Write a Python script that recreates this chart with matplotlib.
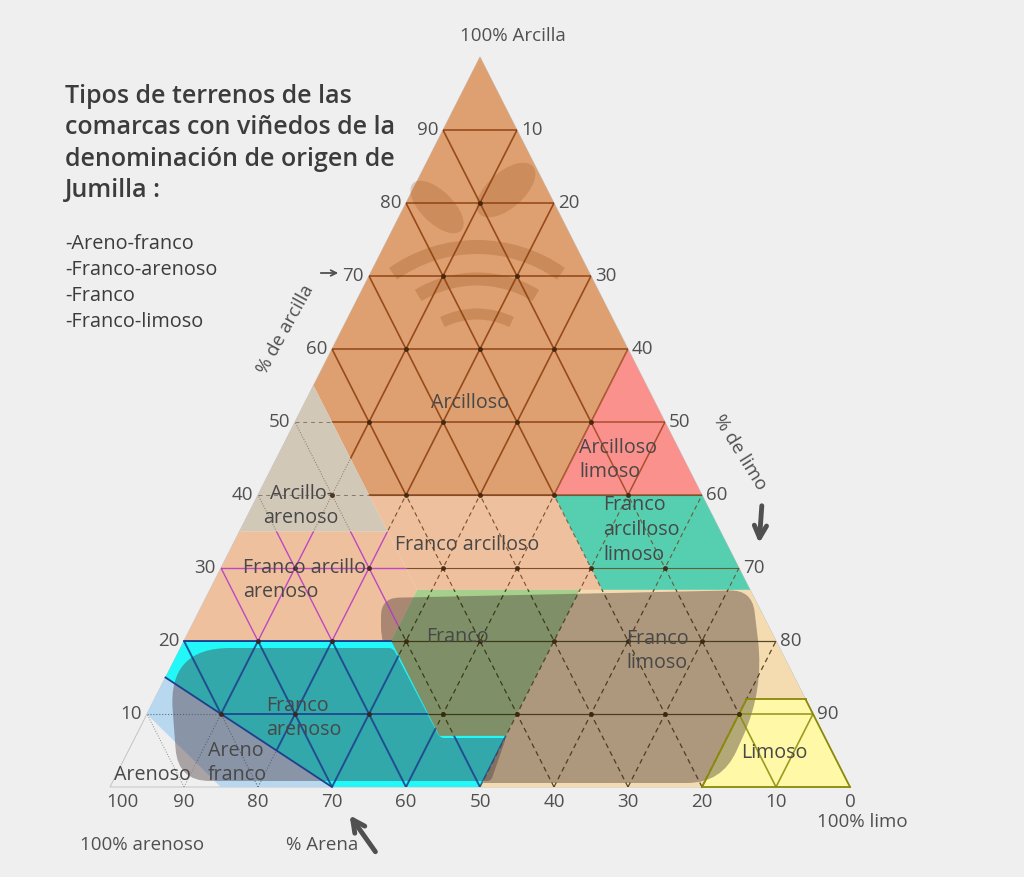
import numpy as np
import matplotlib
matplotlib.use("Agg")
import matplotlib.pyplot as plt
from matplotlib.path import Path
from matplotlib.patches import PathPatch, Polygon, Arc, Ellipse

plt.rcParams['font.family'] = ['Open Sans', 'DejaVu Sans']

# ---------------- data: texture classes as (sand, silt, clay) vertices ----------------
arcilloso = [(0, 0, 100), (45, 0, 55), (45, 15, 40), (20, 40, 40), (0, 40, 60)]
arcilloso_limoso = [(0, 40, 60), (20, 40, 40), (0, 60, 40)]
arcillo_arenoso = [(45, 0, 55), (65, 0, 35), (45, 20, 35)]
franco_arcilloso = [(45, 15, 40), (20, 40, 40), (20, 53, 27), (45, 28, 27)]
franco_arcilloso_limoso = [(20, 40, 40), (0, 60, 40), (0, 73, 27), (20, 53, 27)]
franco_arcillo_arenoso = [(45, 20, 35), (65, 0, 35), (80, 0, 20), (52, 28, 20), (45, 28, 27)]
franco = [(45, 28, 27), (23, 50, 27), (43, 50, 7), (52, 41, 7), (52, 28, 20)]
franco_limoso = [(23, 50, 27), (0, 73, 27), (0, 88, 12), (8, 80, 12), (20, 80, 0), (50, 50, 0)]
limoso = [(8, 80, 12), (0, 88, 12), (0, 100, 0), (20, 80, 0)]
franco_arenoso = [(80, 0, 20), (52, 28, 20), (52, 41, 7), (43, 50, 7), (50, 50, 0), (70, 30, 0), (85, 0, 15)]
areno_franco = [(85, 0, 15), (70, 30, 0), (85, 15, 0), (90, 0, 10)]
arenoso = [(90, 0, 10), (85, 15, 0), (100, 0, 0)]

tick_values = [10, 20, 30, 40, 50, 60, 70, 80, 90]
bottom_ticks = [100, 90, 80, 70, 60, 50, 40, 30, 20, 10, 0]

title_lines = ["Tipos de terrenos de las", "comarcas con viñedos de la",
               "denominación de origen de", "Jumilla :"]
list_items = ["-Areno-franco", "-Franco-arenoso", "-Franco", "-Franco-limoso"]

# Highlight blobs (outline in image pixels, corner radius)
blob_left = [(168, 648), (393, 648), (440, 738), (506, 738), (491, 781), (178, 781)]
blob_left_r = [62, 4, 4, 4, 4, 32]
blob_right = [(381, 598), (752, 590), (764, 690), (722, 783), (470, 783), (381, 648)]
blob_right_r = [18, 22, 75, 35, 3, 22]

# ---------------- geometry helpers ----------------
W, H = 1024, 877
X0, XS = 110.0, 7.4
Y0, YS = 787.0, 7.3


def t2d(sand, silt, clay):
    return silt + clay / 2.0, clay


def px2d(px, py):
    return (px - X0) / XS, (Y0 - py) / YS


def ft(px, py):
    return px / W, 1 - py / H


def rounded_path(pts_px, radii):
    pts = np.array(pts_px, float)
    n = len(pts)
    verts, codes = [], []
    for i in range(n):
        p0, p1, p2 = pts[i - 1], pts[i], pts[(i + 1) % n]
        d0 = np.linalg.norm(p0 - p1)
        d2 = np.linalg.norm(p2 - p1)
        r = min(radii[i], 0.5 * d0, 0.5 * d2)
        a = p1 + (p0 - p1) / d0 * r
        b = p1 + (p2 - p1) / d2 * r
        verts += [a, p1, b]
        codes += [Path.LINETO if i else Path.MOVETO, Path.CURVE3, Path.CURVE3]
    verts.append(verts[0])
    codes.append(Path.CLOSEPOLY)
    return Path([px2d(*v) for v in verts], codes)


fig = plt.figure(figsize=(W / 100, H / 100), dpi=100, facecolor='#efefef')
ax = fig.add_axes([0, 0, 1, 1])
ax.set_xlim(px2d(0, 0)[0], px2d(W, 0)[0])
ax.set_ylim(px2d(0, H)[1], px2d(0, 0)[1])
ax.axis('off')

tri = Polygon([t2d(100, 0, 0), t2d(0, 100, 0), t2d(0, 0, 100)], closed=True,
              facecolor='none', edgecolor='#c4c4c4', lw=0.7, zorder=0.5)
ax.add_patch(tri)

styles = [
    (arcilloso, '#dea070', '#8b3c0c', 1.2, '-', '-'),
    (arcilloso_limoso, '#fa918c', '#9c4420', 1.1, '-', '-'),
    (arcillo_arenoso, '#d1c8b8', '#7a6a5a', 0.7, (0, (4, 4)), ':'),
    (franco_arcilloso, '#efc09e', '#6a3a18', 0.8, '-', (0, (4, 3))),
    (franco_arcilloso_limoso, '#55cfb0', '#6a4a20', 0.8, '-', (0, (4, 3))),
    (franco_arcillo_arenoso, '#efc09e', '#b533c8', 1.0, '-', '-'),
    (franco, '#a6cf8c', '#2e2e08', 0.9, '-', (0, (4, 3))),
    (franco_limoso, '#f5dcb0', '#3a2e10', 0.9, '-', (0, (4, 3))),
    (limoso, '#fff8a6', '#8a8a0a', 1.2, '-', '-'),
    (franco_arenoso, '#22f8f8', '#1d3f8c', 1.4, '-', '-'),
    (areno_franco, '#b8d8f0', '#505a6a', 0.8, ':', ':'),
    (arenoso, 'none', '#808080', 0.7, ':', ':'),
]

patches = {}
for verts, fc, lc, lw, lsh, lsd in styles:
    p = Polygon([t2d(*v) for v in verts], closed=True, facecolor=fc,
                edgecolor='none', zorder=1)
    ax.add_patch(p)
    patches[id(verts)] = p

# highlight over Franco + Franco limoso
bp = PathPatch(rounded_path(blob_right, blob_right_r), facecolor='#4a3a38',
               edgecolor='none', alpha=0.42, zorder=2)
ax.add_patch(bp)
bp.set_clip_path(tri)

# re-draw sandy classes on top, then their highlight
for verts, fc in [(franco_arenoso, '#22f8f8'), (areno_franco, '#b8d8f0')]:
    ax.add_patch(Polygon([t2d(*v) for v in verts], closed=True, facecolor=fc,
                         edgecolor='none', zorder=3))
lp = PathPatch(rounded_path(blob_left, blob_left_r), facecolor='#4a3a40',
               edgecolor='none', alpha=0.42, zorder=4)
ax.add_patch(lp)
lp.set_clip_path(tri)

# watermark (leaves + arcs)
wm_c = px2d(477, 392)
for r_px, th, half in [(145, 14, 35), (113, 13, 31), (78, 11, 26)]:
    a = Arc(wm_c, 2 * r_px / XS, 2 * r_px / YS, theta1=90 - half, theta2=90 + half,
            color='#9a5220', alpha=0.28, lw=th * 0.72, zorder=4.5)
    a.set_capstyle('butt')
    ax.add_patch(a)
ax.add_patch(Ellipse(px2d(437, 207), 68 / XS, 32 / YS, angle=-45, color='#9a5220',
                     alpha=0.25, zorder=4.5, lw=0))
ax.add_patch(Ellipse(px2d(506, 190), 72 / XS, 36 / YS, angle=42, color='#9a5220',
                     alpha=0.25, zorder=4.5, lw=0))

# grid lines clipped per class
grid = []
for v in tick_values:
    grid.append(('h', t2d(100 - v, 0, v), t2d(0, 100 - v, v)))
    grid.append(('d', t2d(100 - v, v, 0), t2d(0, v, 100 - v)))
    grid.append(('d', t2d(v, 100 - v, 0), t2d(v, 0, 100 - v)))

for verts, fc, lc, lw, lsh, lsd in styles:
    clip = patches[id(verts)]
    for kind, p0, p1 in grid:
        ln, = ax.plot([p0[0], p1[0]], [p0[1], p1[1]], color=lc, lw=lw,
                      ls=lsh if kind == 'h' else lsd, zorder=5, alpha=0.85)
        ln.set_clip_path(clip)

# class boundary strokes
edge_sets = [(franco_arenoso, [(0, 1), (5, 6)], '#1d3f8c'),
             (limoso, [(0, 1), (3, 0), (1, 2), (2, 3)], '#8a8a0a')]
for verts, pairs, col in edge_sets:
    for i, j in pairs:
        a, b = t2d(*verts[i]), t2d(*verts[j])
        ax.plot([a[0], b[0]], [a[1], b[1]], color=col, lw=1.3, zorder=5.5)

# intersection dots
dots = [t2d(100 - a - b, a, b) for a in tick_values for b in tick_values if a + b < 100]
ax.plot([d[0] for d in dots], [d[1] for d in dots], 'o', ms=2.6, color='#3a2510',
        zorder=6, alpha=0.8)

# ---------------- tick labels ----------------
tc = '#505050'
fs = 13.5
for v in tick_values:
    ax.annotate(str(v), xy=t2d(100 - v, 0, v), xytext=(-5, 0), textcoords='offset pixels',
                ha='right', va='center', fontsize=fs, color=tc, zorder=8)
    ax.annotate(str(100 - v), xy=t2d(0, 100 - v, v), xytext=(4, 0), textcoords='offset pixels',
                ha='left', va='center', fontsize=fs, color=tc, zorder=8)
for s in bottom_ticks:
    dx = 12 if s == 100 else 0
    ax.annotate(str(s), xy=t2d(s, 100 - s, 0), xytext=(dx, -15), textcoords='offset pixels',
                ha='center', va='center', fontsize=fs, color=tc, zorder=8)

# axis captions
fig.text(*ft(513, 36), "100% Arcilla", ha='center', va='center', fontsize=fs, color=tc)
fig.text(*ft(142, 845), "100% arenoso", ha='center', va='center', fontsize=fs, color=tc)
fig.text(*ft(322, 845), "% Arena", ha='center', va='center', fontsize=fs, color=tc)
fig.text(*ft(862, 822), "100% limo", ha='center', va='center', fontsize=fs, color=tc)
fig.text(*ft(286, 329), "% de arcilla", ha='center', va='center', fontsize=fs, color=tc,
         rotation=61, rotation_mode='anchor')
fig.text(*ft(740, 452), "% de limo", ha='center', va='center', fontsize=fs, color=tc,
         rotation=-58, rotation_mode='anchor')

ax.annotate('', xy=px2d(341, 273), xytext=px2d(318, 273),
            arrowprops=dict(arrowstyle='->', color=tc, lw=1.3), zorder=8)
ax.annotate('', xy=px2d(348, 813), xytext=px2d(377, 854),
            arrowprops=dict(arrowstyle='->', color='#505050', lw=3.5, mutation_scale=22), zorder=8)
ax.annotate('', xy=px2d(759, 546), xytext=px2d(762, 503),
            arrowprops=dict(arrowstyle='->', color='#505050', lw=3.5, mutation_scale=22), zorder=8)

# ---------------- class labels ----------------
lc_ = '#484848'
lfs = 14.2
labels = [
    ("Arcilloso", 470, 403, 'center'),
    ("Arcilloso\nlimoso", 579, 460, 'left'),
    ("Franco\narcilloso\nlimoso", 603, 530, 'left'),
    ("Arcillo-\narenoso", 301, 506, 'center'),
    ("Franco arcilloso", 467, 545, 'center'),
    ("Franco arcillo\narenoso", 243, 580, 'left'),
    ("Franco", 457, 637, 'center'),
    ("Franco\nlimoso", 657, 651, 'center'),
    ("Franco\narenoso", 266, 718, 'left'),
    ("Areno\nfranco", 208, 763, 'left'),
    ("Arenoso", 152, 775, 'center'),
    ("Limoso", 774, 753, 'center'),
]
for txt, x, y, ha in labels:
    fig.text(*ft(x, y), txt, ha=ha, va='center', fontsize=lfs, color=lc_,
             linespacing=1.3, multialignment=ha, zorder=9)

# ---------------- title & list ----------------
for i, line in enumerate(title_lines):
    fig.text(*ft(65, 103 + 31.5 * i), line, ha='left', va='baseline', fontsize=18,
             color='#3c3c3c', fontweight='semibold')
for i, item in enumerate(list_items):
    fig.text(*ft(65, 249 + 26 * i), item, ha='left', va='baseline', fontsize=14.3,
             color='#3c3c3c')

fig.savefig('out.png', dpi=100, facecolor=fig.get_facecolor())
